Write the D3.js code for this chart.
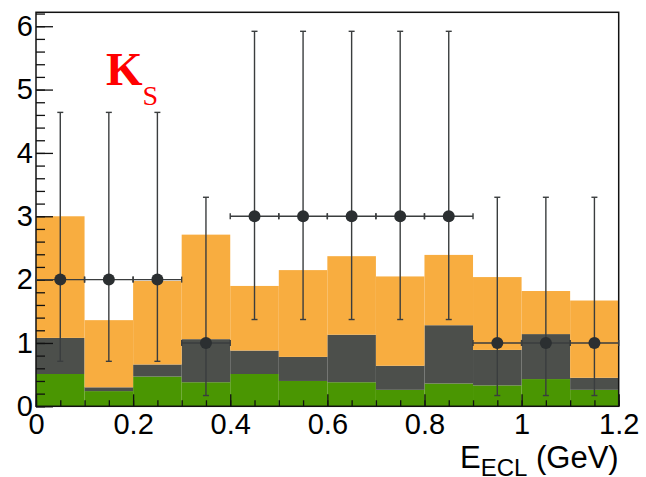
<!DOCTYPE html>
<html>
<head>
<meta charset="utf-8">
<script src="https://cdn.jsdelivr.net/npm/d3@7"></script>
<style>
  html, body { margin: 0; padding: 0; background: #ffffff; }
  svg { display: block; font-family: "Liberation Sans", Arial, Helvetica, sans-serif; }
</style>
</head>
<body>
<svg id="chart" width="646" height="477"></svg>
<script>
// ---- data ----
const binLow = [0.0, 0.1, 0.2, 0.3, 0.4, 0.5, 0.6, 0.7, 0.8, 0.9, 1.0, 1.1];
const binWidth = 0.1;
const greenVals  = [0.51, 0.24, 0.47, 0.38, 0.51, 0.40, 0.38, 0.26, 0.36, 0.33, 0.43, 0.26];
const grayVals   = [0.57, 0.06, 0.19, 0.68, 0.37, 0.38, 0.75, 0.38, 0.92, 0.56, 0.71, 0.19];
const orangeVals = [1.92, 1.06, 1.32, 1.65, 1.02, 1.37, 1.24, 1.41, 1.11, 1.15, 0.68, 1.22];
const dataCounts = [2, 2, 2, 1, 3, 3, 3, 3, 3, 1, 1, 1];
const dataLow    = [0.71, 0.71, 0.71, 0.17, 1.37, 1.37, 1.37, 1.37, 1.37, 0.17, 0.17, 0.17];
const dataHigh   = [4.64, 4.64, 4.64, 3.30, 5.92, 5.92, 5.92, 5.92, 5.92, 3.30, 3.30, 3.30];
const xMajorTicks = [0, 0.2, 0.4, 0.6, 0.8, 1.0, 1.2];
const xTickLabels = ["0", "0.2", "0.4", "0.6", "0.8", "1", "1.2"];
const yMajorTicks = [0, 1, 2, 3, 4, 5, 6];
const yTickLabels = ["0", "1", "2", "3", "4", "5", "6"];
const seriesKeys = ["green", "gray", "orange"];
const seriesColors = { green: "#4a9602", gray: "#4c4f4b", orange: "#f8ad40" };

(function () {
// ---- layout ----
const svg = d3.select("#chart");
const pLeft = 36, pRight = 618.7, pTop = 12.3, pBottom = 406.3;
const sans = "'Liberation Sans', Arial, Helvetica, sans-serif";
const serif = "'Liberation Serif', 'Times New Roman', Times, serif";
const x = d3.scaleLinear().domain([0, 1.2]).range([pLeft, pRight]);
const y = d3.scaleLinear().domain([0, 6.22]).range([pBottom, pTop]);

// ---- stacked histogram ----
const table = binLow.map((b, i) => ({ low: b, green: greenVals[i], gray: grayVals[i], orange: orangeVals[i] }));
const stacked = d3.stack().keys(seriesKeys)(table);
svg.append("g").selectAll("g").data(stacked).join("g")
  .attr("fill", d => seriesColors[d.key])
  .selectAll("rect").data(d => d).join("rect")
  .attr("x", d => x(d.data.low))
  .attr("width", d => x(d.data.low + binWidth) - x(d.data.low))
  .attr("y", d => y(d[1]))
  .attr("height", d => y(d[0]) - y(d[1]));

// ---- axes ----
const fontSize = 29;
const xAxis = svg.append("g").attr("transform", `translate(0,${pBottom})`)
  .call(d3.axisBottom(x).tickValues(d3.range(0, 1.2001, 0.05)).tickSize(-6).tickFormat(""));
xAxis.select(".domain").remove();
const xAxisMaj = svg.append("g").attr("transform", `translate(0,${pBottom})`)
  .call(d3.axisBottom(x).tickValues(xMajorTicks).tickSize(-12).tickPadding(7)
        .tickFormat((d, i) => xTickLabels[i]));
xAxisMaj.select(".domain").remove();
xAxisMaj.attr("font-size", null).attr("font-family", null);
xAxisMaj.selectAll("text").style("font-size", fontSize + "px").attr("fill", "#000")
  .style("font-family", sans);

const yAxis = svg.append("g").attr("transform", `translate(${pLeft},0)`)
  .call(d3.axisLeft(y).tickValues(d3.range(0, 6.2001, 0.2)).tickSize(-9).tickFormat(""));
yAxis.select(".domain").remove();
const yAxisMaj = svg.append("g").attr("transform", `translate(${pLeft},0)`)
  .call(d3.axisLeft(y).tickValues(yMajorTicks).tickSize(-17).tickPadding(3)
        .tickFormat((d, i) => yTickLabels[i]));
yAxisMaj.select(".domain").remove();
yAxisMaj.selectAll("text").style("font-size", fontSize + "px").attr("fill", "#000")
  .style("font-family", sans);
svg.selectAll(".tick line").attr("stroke", "#111").attr("stroke-width", 1.3);

// frame
svg.append("rect").attr("x", pLeft).attr("y", pTop)
  .attr("width", pRight - pLeft).attr("height", pBottom - pTop)
  .attr("fill", "none").attr("stroke", "#111").attr("stroke-width", 1.5);

// ---- data points with error bars ----
const pts = binLow.map((b, i) => ({ xc: b + binWidth / 2, x0: b, x1: b + binWidth, n: dataCounts[i], lo: dataLow[i], hi: dataHigh[i] }));
const pg = svg.append("g").attr("stroke", "#3a3d3e").attr("stroke-width", 1.4);
pts.forEach(p => {
  const g = pg.append("g");
  g.append("line").attr("x1", x(p.xc)).attr("x2", x(p.xc)).attr("y1", y(p.lo)).attr("y2", y(p.hi));
  g.append("line").attr("x1", x(p.xc) - 3).attr("x2", x(p.xc) + 3).attr("y1", y(p.lo)).attr("y2", y(p.lo));
  g.append("line").attr("x1", x(p.xc) - 3).attr("x2", x(p.xc) + 3).attr("y1", y(p.hi)).attr("y2", y(p.hi));
  g.append("line").attr("x1", x(p.x0)).attr("x2", x(p.x1)).attr("y1", y(p.n)).attr("y2", y(p.n));
  g.append("line").attr("x1", x(p.x0)).attr("x2", x(p.x0)).attr("y1", y(p.n) - 3).attr("y2", y(p.n) + 3);
  g.append("line").attr("x1", x(p.x1)).attr("x2", x(p.x1)).attr("y1", y(p.n) - 3).attr("y2", y(p.n) + 3);
});
svg.append("g").selectAll("circle").data(pts).join("circle")
  .attr("cx", d => x(d.xc)).attr("cy", d => y(d.n)).attr("r", 6)
  .attr("fill", "#2b2f31");

// ---- axis title ----
const title = svg.append("text").attr("x", pRight).attr("y", 468)
  .attr("text-anchor", "end").style("font-size", "31px").style("font-family", sans).attr("fill", "#000");
title.append("tspan").text("E");
title.append("tspan").style("font-size", "24px").attr("dy", 8).text("ECL");
title.append("tspan").attr("dy", -8).text(" (GeV)");

// ---- Ks label ----
const ks = svg.append("text").attr("x", 106).attr("y", 85)
  .style("font-family", serif).style("font-weight", "bold")
  .attr("fill", "#ff0000").style("font-size", "47px");
ks.append("tspan").text("K");
ks.append("tspan").style("font-size", "28px").style("font-weight", "normal").attr("dy", 20).text("S");
})();
</script>
</body>
</html>
